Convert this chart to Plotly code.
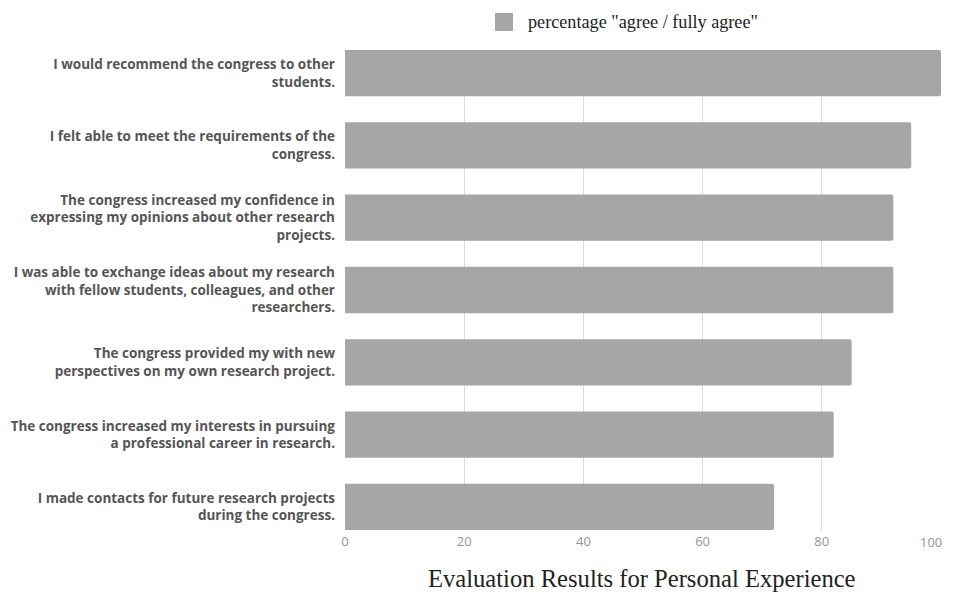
import plotly.graph_objects as go

categories = [
    "I would recommend the congress to other<br>students.",
    "I felt able to meet the requirements of the<br>congress.",
    "The congress increased my confidence in<br>expressing my opinions about other research<br>projects.",
    "I was able to exchange ideas about my research<br>with fellow students, colleagues, and other<br>researchers.",
    "The congress provided my with new<br>perspectives on my own research project.",
    "The congress increased my interests in pursuing<br>a professional career in research.",
    "I made contacts for future research projects<br>during the congress.",
]
values = [100, 95, 92, 92, 85, 82, 72]
series_name = 'percentage "agree / fully agree"'
title_text = "Evaluation Results for Personal Experience"
tick_vals = [0, 20, 40, 60, 80, 100]
tick_labels = ["0", "20", "40", "60", "80", "100"]

# page body has an 8px margin; figure drawn at (8, 8)
OFF = 8
PL, PR, PT, PB = 345 - OFF, 941 - OFF, 50 - OFF, 530 - OFF
W, H = 955 - OFF, 594 - OFF
PW, PH = PR - PL, PB - PT
BAR_W = 0.64
N = len(categories)


def px(x):
    return (x - OFF - PL) / PW


def py(y):
    return (PB - (y - OFF)) / PH


tick_font = dict(family="Open Sans", size=13, color="#959595")

fig = go.Figure()
fig.add_trace(go.Bar(
    y=categories, x=values, orientation="h", name=series_name,
    marker=dict(color="#a6a6a6", line=dict(width=0), cornerradius=2),
    width=BAR_W, showlegend=False,
))

fig.update_layout(
    width=W, height=H,
    margin=dict(l=PL, r=W - PR, t=PT, b=H - PB, autoexpand=False),
    plot_bgcolor="white", paper_bgcolor="white",
    xaxis=dict(range=[0, 100], tickvals=tick_vals,
               ticktext=tick_labels[:-1] + [""],
               showgrid=True, gridcolor="#dcdcdc", gridwidth=1,
               zeroline=False, showline=False, ticks="", automargin=False,
               ticklabelstandoff=2, tickfont=tick_font),
    yaxis=dict(type="category", categoryorder="array", categoryarray=categories,
               range=[N - 1 + BAR_W / 2, -BAR_W / 2],
               showgrid=False, showline=False,
               ticks="", ticklabelstandoff=9, automargin=False,
               tickfont=dict(family="Open Sans", size=13.5, color="#555555",
                             weight="bold")),
    font=dict(family="Open Sans"),
)

# last x tick label, kept inside the visible page edge
fig.add_annotation(text=tick_labels[-1], xref="x", yref="paper",
                   x=tick_vals[-1], y=py(542), xanchor="right", xshift=3,
                   yanchor="middle", showarrow=False, font=tick_font)

# legend swatch + label
fig.add_shape(type="rect", xref="paper", yref="paper",
              x0=px(495), x1=px(513), y0=py(31), y1=py(13),
              fillcolor="#a6a6a6", line=dict(width=0))
fig.add_annotation(text=series_name, xref="paper", yref="paper",
                   x=px(526), y=py(22),
                   xanchor="left", yanchor="middle", showarrow=False,
                   font=dict(family="Liberation Serif", size=18.2, color="#222222"))
# bottom title
fig.add_annotation(text=title_text, xref="paper", yref="paper",
                   x=px(642), y=py(578),
                   xanchor="center", yanchor="middle", showarrow=False,
                   font=dict(family="Liberation Serif", size=24.6, color="#222222"))

fig.write_html("out.html")
